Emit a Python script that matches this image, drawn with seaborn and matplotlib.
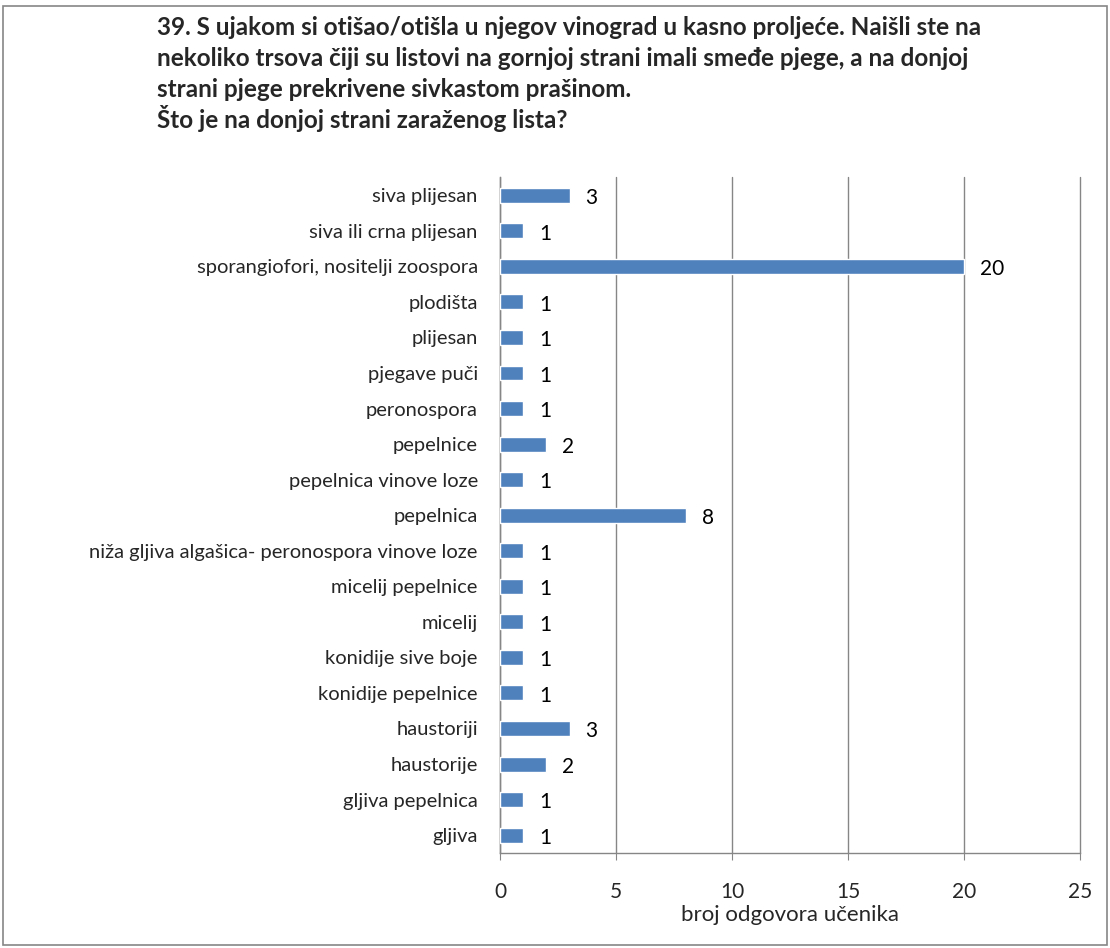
import pandas as pd
import matplotlib.pyplot as plt
import seaborn as sns
from matplotlib.patches import Rectangle

# Podaci
odgovori = [
    'siva plijesan', 'siva ili crna plijesan', 'sporangiofori, nositelji zoospora',
    'plodišta', 'plijesan', 'pjegave puči', 'peronospora', 'pepelnice',
    'pepelnica vinove loze', 'pepelnica',
    'niža gljiva algašica- peronospora vinove loze', 'micelij pepelnice',
    'micelij', 'konidije sive boje', 'konidije pepelnice', 'haustoriji',
    'haustorije', 'gljiva pepelnica', 'gljiva',
]
broj = [3, 1, 20, 1, 1, 1, 1, 2, 1, 8, 1, 1, 1, 1, 1, 3, 2, 1, 1]
x_ticks = [0, 5, 10, 15, 20, 25]

naslov = [
    '39. S ujakom si otišao/otišla u njegov vinograd u kasno proljeće. Naišli ste na',
    'nekoliko trsova čiji su listovi na gornjoj strani imali smeđe pjege, a na donjoj',
    'strani pjege prekrivene sivkastom prašinom.',
    'Što je na donjoj strani zaraženog lista?',
]

df = pd.DataFrame({'odgovor': odgovori, 'broj': broj})

sns.set_style('white')
plt.rcParams['font.family'] = ['Lato', 'DejaVu Sans']

fig = plt.figure(figsize=(11.1, 9.48), dpi=100)
ax = fig.add_axes([0.4505, 0.1003, 0.5225, 0.7125])

sns.barplot(data=df, x='broj', y='odgovor', color='#4F81BD', saturation=1,
            width=0.42, ax=ax, zorder=3)

for i, v in enumerate(broj):
    ax.annotate(str(v), (v, i), xytext=(11.5, -2), textcoords='offset points',
                va='center', ha='left', fontsize=15, color='black')

ax.set_xlim(0, 25)
ax.set_ylim(len(odgovori) - 0.5, -0.5)
ax.set_xticks(x_ticks)
ax.xaxis.grid(True, color='#868686', linewidth=1, zorder=0)
for gl in ax.get_xgridlines():
    gl.set_clip_on(False)
ax.yaxis.grid(False)

for s in ['top', 'right']:
    ax.spines[s].set_visible(False)
for s in ['left', 'bottom']:
    ax.spines[s].set_color('#868686')
    ax.spines[s].set_linewidth(1)

ax.set_yticks(range(len(odgovori)))
ax.set_yticklabels(odgovori, fontsize=14.5)
ax.set_yticks([i - 0.5 for i in range(len(odgovori) + 1)], minor=True)
ax.tick_params(axis='y', which='major', length=0, pad=16)
ax.tick_params(axis='y', which='minor', length=5, color='#868686', direction='out')
ax.tick_params(axis='x', length=5, color='#868686', direction='out', labelsize=15, pad=16)
ax.tick_params(left=True, bottom=True)

ax.set_ylabel('')
ax.set_xlabel('broj odgovora učenika', fontsize=16, labelpad=2)

# naslov, redak po redak
baseline = [35, 66, 97, 128]
for red, b in zip(naslov, baseline):
    fig.text(0.1415, 1 - b / 948, red, fontsize=17.5, fontweight='bold',
             ha='left', va='baseline')

fig.patches.append(Rectangle((0.003, 0.003), 0.994, 0.991, transform=fig.transFigure,
                             fill=False, edgecolor='#868686', linewidth=1.2))

plt.savefig('out.png', dpi=100)
